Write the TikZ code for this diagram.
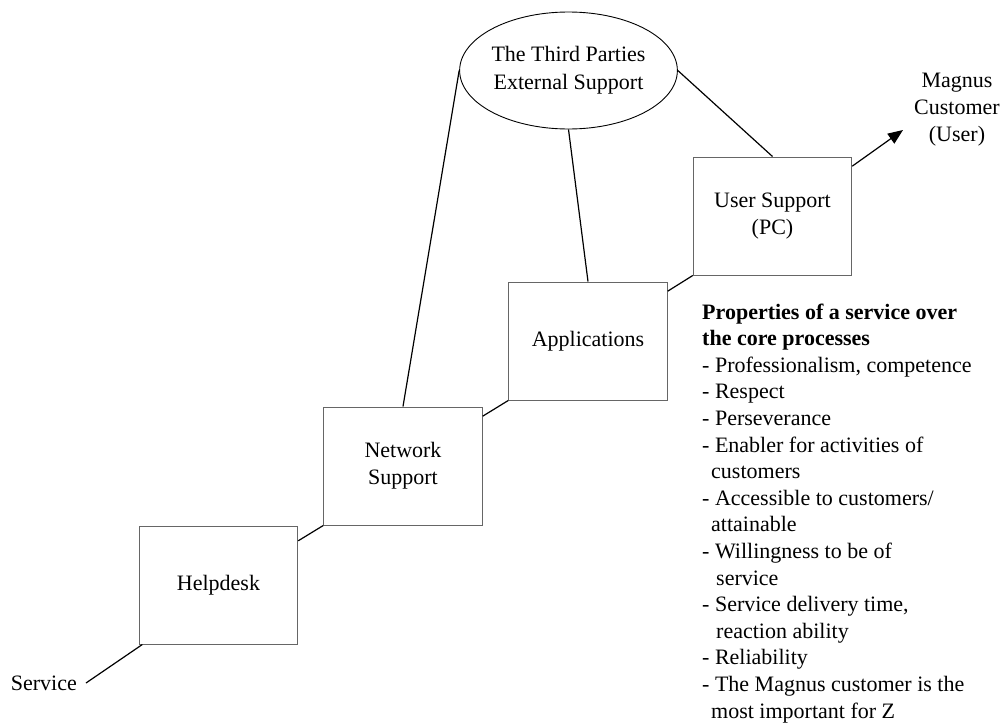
\documentclass[tikz,border=0pt]{standalone}
\usepackage{fontspec}
\setmainfont{Liberation Serif}
\usetikzlibrary{shapes.geometric,arrows.meta,calc}
\begin{document}
\begin{tikzpicture}[x=1pt,y=-1pt,
  every node/.style={font=\fontsize{22}{27}\selectfont},
  stage/.style={draw=black!60,line width=1pt,minimum width=158.5pt,minimum height=118pt,align=center,inner sep=2pt},
  party/.style={ellipse,draw=black,line width=0.9pt,minimum width=199pt,minimum height=117pt,align=center,inner sep=0pt},
  label/.style={align=center,inner sep=0pt},
  link/.style={draw=black,line width=1.2pt},
  flow/.style={link,-{Triangle[length=15pt,width=12pt]}}]
\useasboundingbox (0,0) rectangle (1002,726);

% the chain of support stages
\node[stage] (help) at (218.5,585) {Helpdesk};
\node[stage] (net)  at (403,466)   {Network\\Support};
\node[stage] (apps) at (588,341)   {Applications};
\node[stage] (user) at (772.5,216) {User Support\\(PC)};

% external support
\node[party] (ext) at (568.5,70.5) {The Third Parties\\[1pt]External Support};

% start and end of the chain
\node[label,anchor=east] (service) at (77,683) {Service};
\node[label] (magnus) at (957,110) {Magnus\\Customer\\(User)};
\coordinate (tip) at (903,130);

% connectors
\draw[link] ([xshift=9pt]service.east) -- (help.218.8);
\draw[link] (help.29) -- (net.south west);
\draw[link] (net.32.8) -- (apps.south west);
\draw[link] (apps.32.3) -- (user.south west);
\draw[flow] (user.32.7) -- (tip);

\draw[link] (ext.west) -- (net.north);
\draw[link] (ext.south) -- (apps.north);
\draw[link] (ext.east) -- (user.north);

% list of service properties
\node[anchor=north west,align=left,inner sep=0pt,font=\fontsize{22}{26.6}\selectfont] (props) at (702,303.5) {%
\textbf{Properties of a service over}\\
\textbf{the core processes}\\
- Professionalism, competence\\
- Respect\\
- Perseverance\\
- Enabler for activities of\\
\hspace*{9pt}customers\\
- Accessible to customers/\\
\hspace*{9pt}attainable\\
- Willingness to be of\\
\hspace*{14pt}service\\
- Service delivery time,\\
\hspace*{14pt}reaction ability\\
- Reliability\\
- The Magnus customer is the\\
\hspace*{9pt}most important for Z};
\end{tikzpicture}
\end{document}
